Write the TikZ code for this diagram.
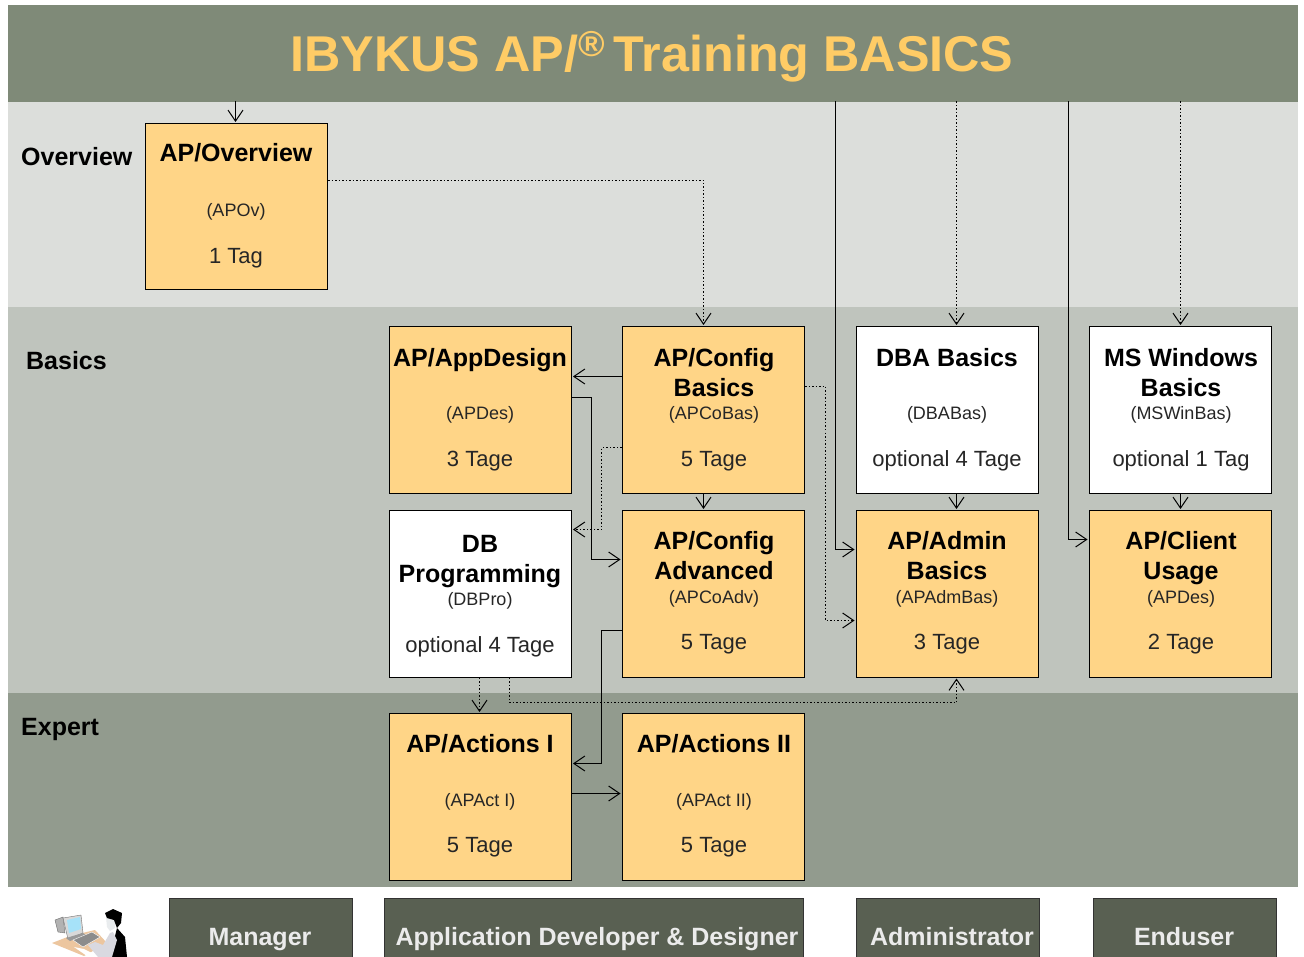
\documentclass[tikz,border=0pt]{standalone}
\usepackage{fontspec}
\setmainfont{Liberation Sans}
\usetikzlibrary{arrows.meta}
\definecolor{headc}{HTML}{7F8A78}
\definecolor{ovc}{HTML}{DCDEDB}
\definecolor{basc}{HTML}{BFC4BD}
\definecolor{expc}{HTML}{929B8E}
\definecolor{rolec}{HTML}{596052}
\definecolor{boxc}{HTML}{FFD587}
\definecolor{titlec}{HTML}{FFCC66}
\tikzset{
  x=1pt,y=-1pt,
  band/.style={fill=#1,draw=none},
  course/.style={draw=black,line width=1pt,fill=boxc,minimum width=182.5pt,minimum height=166.5pt,inner sep=0pt,anchor=north west,xshift=-.5pt},
  optcourse/.style={course,fill=white},
  ttl/.style={anchor=base,font=\fontsize{25}{25}\selectfont\bfseries,inner sep=0pt},
  sub/.style={anchor=base,font=\fontsize{18}{18}\selectfont,inner sep=0pt,text=black!85},
  days/.style={anchor=base,font=\fontsize{22}{22}\selectfont,inner sep=0pt,text=black!85},
  lvl/.style={anchor=base west,font=\fontsize{25}{25}\selectfont\bfseries,inner sep=0pt},
  role/.style={draw=black!80,line width=1pt,fill=rolec,inner sep=0pt,anchor=north west,minimum height=80pt,xshift=-.5pt},
  roletxt/.style={anchor=base,font=\fontsize{25}{25}\selectfont\bfseries,text=white!92!black,inner sep=0pt},
  tip/.style={-{Straight Barb[length=11pt,width=15pt,line width=1pt]},shorten >=1pt},
  conn/.style={tip,line width=1pt,black},
  dotc/.style={tip,line width=1pt,black,dash pattern=on 1.5pt off 2pt},
}
\begin{document}
\begin{tikzpicture}
\useasboundingbox (0,0) rectangle (1304,957);
\begin{scope}
\clip (0,0) rectangle (1304,957);
\fill[band=white] (0,0) rectangle (1304,957);
\fill[band=ovc] (8,102) rectangle (1298,307);
\fill[band=basc] (8,307) rectangle (1298,693);
\fill[band=expc] (8,693) rectangle (1298,887);
\fill[band=headc] (8,5) rectangle (1298,102);

\node[anchor=base,text=titlec,font=\fontsize{50.3}{50}\selectfont\bfseries,inner sep=0pt] (title) at (652,72) {IBYKUS AP/\raisebox{15pt}{\fontsize{36}{36}\selectfont ®}\kern-5pt{} Training BASICS};

\node[lvl] (lo) at (21,166) {Overview};
\node[lvl] (lb) at (26,370) {Basics};
\node[lvl] (le) at (21,735) {Expert};

\node[course] (ov) at (145,123) {};
\node[course] (des) at (389,326) {};
\node[course] (cob) at (622,326) {};
\node[optcourse] (dba) at (856,326) {};
\node[optcourse] (win) at (1089,326) {};
\node[optcourse] (dbp) at (389,510) {};
\node[course] (coa) at (622,510) {};
\node[course] (adm) at (856,510) {};
\node[course] (cli) at (1089,510) {};
\node[course] (ac1) at (389,713) {};
\node[course] (ac2) at (622,713) {};

\node[ttl] (ovt) at (236,162) {AP/Overview};
\node[sub] (ovs) at (236,217) {(APOv)};
\node[days] (ovd) at (236,264) {1 Tag};

\node[ttl] (dest) at (480,367) {AP/AppDesign};
\node[sub] (dess) at (480,420) {(APDes)};
\node[days] (desd) at (480,466) {3 Tage};

\node[ttl] (cobt) at (714,367) {AP/Config};
\node[ttl] (cobu) at (714,397) {Basics};
\node[sub] (cobs) at (714,420) {(APCoBas)};
\node[days] (cobd) at (714,466) {5 Tage};

\node[ttl] (dbat) at (947,367) {DBA Basics};
\node[sub] (dbas) at (947,420) {(DBABas)};
\node[days] (dbad) at (947,466) {optional 4 Tage};

\node[ttl] (wint) at (1181,367) {MS Windows};
\node[ttl] (winu) at (1181,397) {Basics};
\node[sub] (wins) at (1181,420) {(MSWinBas)};
\node[days] (wind) at (1181,466) {optional 1 Tag};

\node[ttl] (dbpt) at (480,552) {DB};
\node[ttl] (dbpu) at (480,582) {Programming};
\node[sub] (dbps) at (480,605) {(DBPro)};
\node[days] (dbpd) at (480,652) {optional 4 Tage};

\node[ttl] (coat) at (714,549) {AP/Config};
\node[ttl] (coau) at (714,579) {Advanced};
\node[sub] (coas) at (714,603) {(APCoAdv)};
\node[days] (coad) at (714,649) {5 Tage};

\node[ttl] (admt) at (947,549) {AP/Admin};
\node[ttl] (admu) at (947,579) {Basics};
\node[sub] (adms) at (947,603) {(APAdmBas)};
\node[days] (admd) at (947,649) {3 Tage};

\node[ttl] (clit) at (1181,549) {AP/Client};
\node[ttl] (cliu) at (1181,579) {Usage};
\node[sub] (clis) at (1181,603) {(APDes)};
\node[days] (clid) at (1181,649) {2 Tage};

\node[ttl] (ac1t) at (480,752) {AP/Actions I};
\node[sub] (ac1s) at (480,806) {(APAct I)};
\node[days] (ac1d) at (480,852) {5 Tage};

\node[ttl] (ac2t) at (714,752) {AP/Actions II};
\node[sub] (ac2s) at (714,806) {(APAct II)};
\node[days] (ac2d) at (714,852) {5 Tage};

% connectors
\begin{scope}[xshift=-.5pt,yshift=.5pt]
\coordinate (h1) at (236,102);
\coordinate (h2) at (836,102);
\coordinate (h3) at (957,102);
\coordinate (h4) at (1069,102);
\coordinate (h5) at (1181,102);
\draw[conn] (h1) -- (ov.north -| h1);
\draw[dotc] (ov.east |- 0,181) -- (704,181) -- (cob.north -| 704,0);
\draw[conn] (h2) -- (836,550) -- (adm.west |- 0,550);
\draw[dotc] (h3) -- (dba.north -| h3);
\draw[conn] (h4) -- (1069,540) -- (cli.west |- 0,540);
\draw[dotc] (h5) -- (win.north -| h5);
\draw[conn] (cob.west |- 0,377) -- (des.east |- 0,377);
\draw[conn] (des.east |- 0,398) -- (592,398) -- (592,560) -- (coa.west |- 0,560);
\draw[dotc] (cob.west |- 0,448) -- (602,448) -- (602,530) -- (dbp.east |- 0,530);
\draw[conn] (cob.south -| 704,0) -- (coa.north -| 704,0);
\draw[dotc] (cob.east |- 0,387) -- (826,387) -- (826,621) -- (adm.west |- 0,621);
\draw[conn] (dba.south -| 957,0) -- (adm.north -| 957,0);
\draw[conn] (win.south -| 1181,0) -- (cli.north -| 1181,0);
\draw[conn] (coa.west |- 0,631) -- (602,631) -- (602,764) -- (ac1.east |- 0,764);
\draw[conn] (ac1.east |- 0,794) -- (ac2.west |- 0,794);
\draw[dotc] (dbp.south -| 480,0) -- (ac1.north -| 480,0);
\draw[dotc] (dbp.south -| 510,0) -- (510,703) -- (957,703) -- (adm.south -| 957,0);
\end{scope}

% roles
\node[role,minimum width=183pt] (r1) at (169,898) {};
\node[role,minimum width=419pt] (r2) at (384,898) {};
\node[role,minimum width=183pt] (r3) at (856,898) {};
\node[role,minimum width=183pt] (r4) at (1093,898) {};
\node[roletxt] (r1t) at (260,945) {Manager};
\node[roletxt] (r2t) at (597,945) {Application Developer \& Designer};
\node[roletxt] (r3t) at (952,945) {Administrator};
\node[roletxt] (r4t) at (1184,945) {Enduser};

% icon
\fill[fill=orange!35!brown!45!white] (52,943) -- (70,936) -- (95,930) -- (107,943) -- (84,956) -- cycle;
\fill[black!30,draw=black!55,line width=.4pt] (55,920) -- (63,917) -- (65,933) -- (58,932) -- cycle;
\fill[black!15,draw=black!55,line width=.4pt] (63,918) -- (81,915) -- (83,933) -- (68,939) -- cycle;
\fill[cyan!35] (67,920) -- (80,917) -- (81,929) -- (69,933) -- cycle;
\fill[black!40] (66,938) -- (83,933) -- (86,935) -- (70,941) -- cycle;
\fill[black!45,draw=white,line width=.4pt] (73,940) -- (92,932) -- (100,937) -- (83,947) -- cycle;
\fill[white] (74,947) -- (84,949) -- (94,954) -- (87,956) -- cycle;
\fill[black] (117,928) -- (125,937) -- (127,957) -- (110,957) -- cycle;
\fill[blue!20!black!15] (113,932) -- (117,940) -- (112,957) -- (98,957) -- (88,945) -- (95,942) -- (103,945) -- (110,933) -- cycle;
\fill[cyan!25!black!10] (106,917) -- (115,920) -- (115,928) -- (110,931) -- (107,927) -- cycle;
\fill[black] (105,913) -- (113,909) -- (122,913) -- (121,923) -- (117,928) -- (114,920) -- (107,918) -- cycle;
\end{scope}
\end{tikzpicture}
\end{document}
